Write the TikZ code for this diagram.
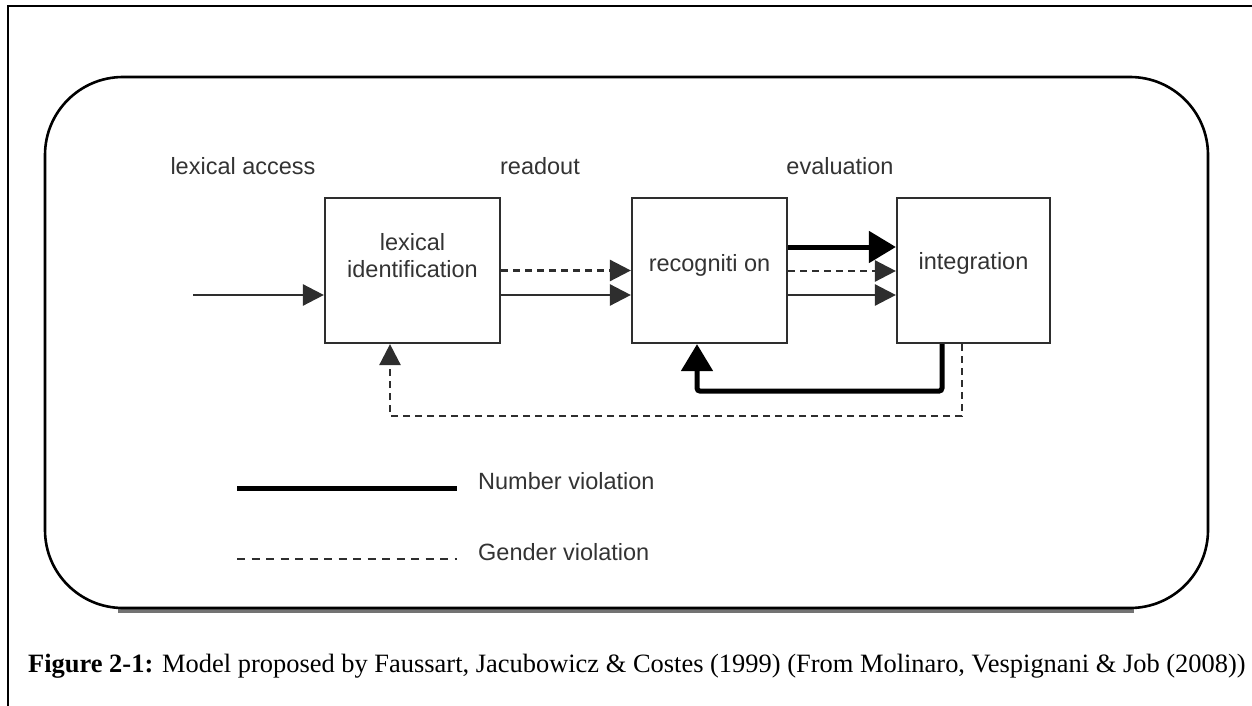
\documentclass[tikz,border=0pt]{standalone}
\usepackage{fontspec}
\setmainfont{Liberation Serif}
\newfontfamily\diagfont{Liberation Sans}
\usetikzlibrary{arrows.meta}

\definecolor{ink}{HTML}{2E2E2E}
\definecolor{textgray}{HTML}{333333}

\tikzset{
  stage/.style={draw=ink, line width=2.2pt, minimum width=#1, minimum height=145pt, inner sep=0pt},
  lbl/.style={text=textgray, font=\diagfont\fontsize{23.5}{27}\selectfont, inner sep=0pt, align=center},
  thinflow/.style={draw=ink, line width=2.6pt},
  numflow/.style={draw=black, line width=5pt},
  genflow/.style={draw=ink, line width=2.6pt, dash pattern=on 7pt off 5pt},
  smalltip/.style={-{Triangle[length=21pt,width=21pt]}},
  bigtip/.style={-{Triangle[length=27pt,width=31pt]}},
}

\begin{document}
\begin{tikzpicture}[x=1pt, y=-1pt]
  \useasboundingbox (0,0) rectangle (1252,706);

  % page frame: left and top rules
  \coordinate (frameTL) at (8,6);
  \draw[line width=2.5pt] (8,706) -- (frameTL) -- (1252,6);

  % rounded panel with a soft shadow under its bottom edge
  \draw[line width=3.5pt, black!55] (118,611) -- (1134,611);
  \draw[line width=2.6pt, rounded corners=78pt] (45,77) rectangle (1208,608);

  % processing stages
  \node[stage=175pt] (lexid) at (412.5,270.5) {};
  \node[stage=155pt] (recog) at (709.5,270.5) {};
  \node[stage=153pt] (integ) at (973.5,270.5) {};

  \node[lbl] (lexidtxt) at ([yshift=14.5pt]lexid.center) {lexical\\identification};
  \node[lbl] (recogtxt) at ([yshift=5.5pt]recog.center) {recogniti on};
  \node[lbl] (integtxt) at ([yshift=7.5pt]integ.center) {integration};

  % phase labels
  \node[lbl] (access) at (243,166) {lexical access};
  \node[lbl] (readout) at (540,166) {readout};
  \node[lbl] (evaluation) at (840,166) {evaluation};

  % input
  \coordinate (input) at (193,295);
  \draw[thinflow, smalltip] (input) -- (input -| lexid.west);

  % lexical identification -> recognition
  \draw[genflow, smalltip] (lexid.east) -- (recog.west);
  \draw[thinflow, smalltip] ([yshift=-24.5pt]lexid.east) -- ([yshift=-24.5pt]recog.west);

  % recognition -> integration
  \draw[numflow, bigtip] ([yshift=23.5pt]recog.east) -- ([yshift=23.5pt]integ.west);
  \draw[genflow, smalltip] ([yshift=-0.5pt]recog.east) -- ([yshift=-0.5pt]integ.west);
  \draw[thinflow, smalltip] ([yshift=-24.5pt]recog.east) -- ([yshift=-24.5pt]integ.west);

  % feedback loops
  \draw[numflow, bigtip, rounded corners=3pt]
    ([xshift=-31.5pt]integ.south) -- ++(0,47) -| ([xshift=-12.5pt]recog.south);
  \draw[genflow, smalltip]
    ([xshift=-11.5pt]integ.south) -- ++(0,72) -| ([xshift=-22.5pt]lexid.south);

  % legend
  \coordinate (numA) at (237,488);
  \coordinate (numB) at (457,488);
  \coordinate (genA) at (237,559);
  \coordinate (genB) at (457,559);
  \draw[numflow] (numA) -- (numB);
  \draw[genflow, dash pattern=on 8pt off 6.5pt] (genA) -- (genB);
  \node[lbl, anchor=west] (numtxt) at (478,481) {Number violation};
  \node[lbl, anchor=west] (gentxt) at (478,552) {Gender violation};

  % caption
  \node[anchor=base west, inner sep=0pt, font=\fontsize{26.45}{30}\selectfont] (caption) at (28,672)
    {\textbf{Figure 2-1:} Model proposed by Faussart, Jacubowicz \& Costes (1999) (From Molinaro, Vespignani \& Job (2008))};
\end{tikzpicture}
\end{document}
